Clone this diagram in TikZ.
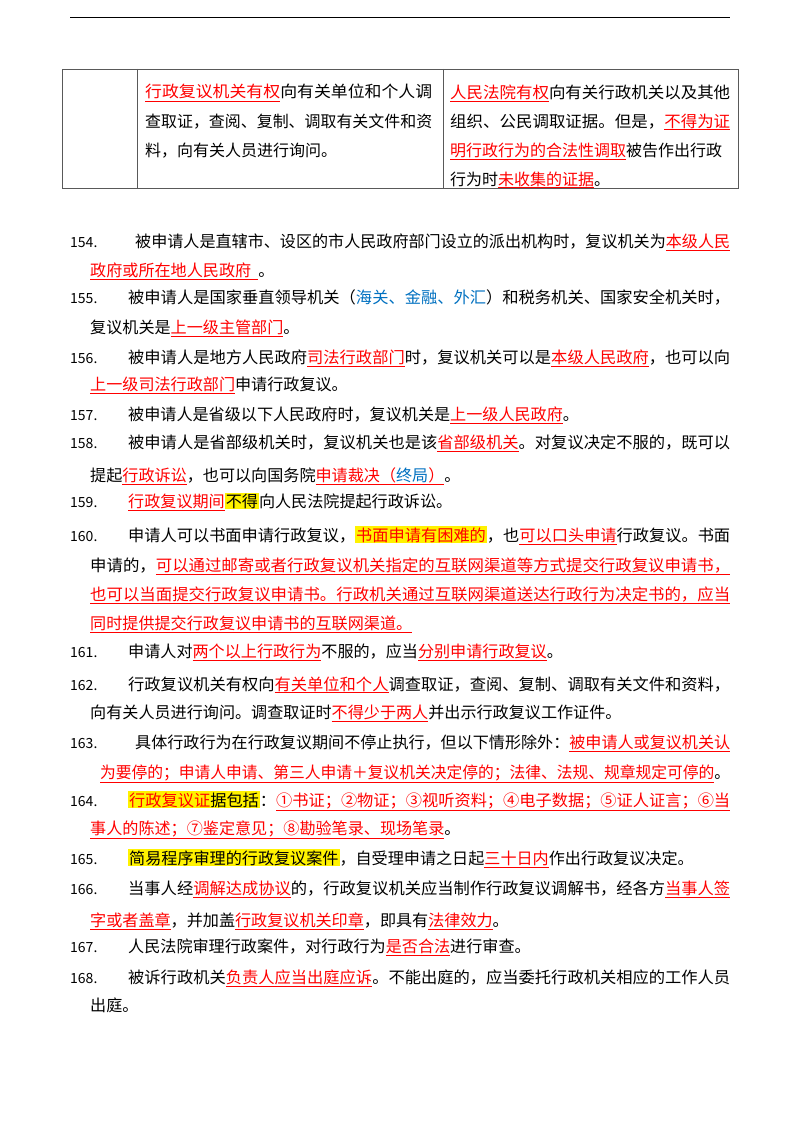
\documentclass[tikz,border=0pt]{standalone}
\usepackage{fontspec}
\usepackage{graphicx}
\setmainfont{Noto Sans CJK SC}
\definecolor{hlred}{RGB}{255,0,0}
\definecolor{hlblue}{RGB}{0,112,192}
\newcommand{\R}[1]{{\color{hlred}\underline{#1}}}
\newcommand{\Rn}[1]{{\color{hlred}#1}}
\newcommand{\Bl}[1]{{\color{hlblue}#1}}
\newcommand{\Yl}[1]{{\setlength{\fboxsep}{1pt}\colorbox{yellow}{#1}}}
\tikzset{
  txt/.style={anchor=base west,inner sep=0pt,font=\fontsize{16.1}{18}\selectfont},
  num/.style={anchor=base west,inner sep=0pt,font=\fontsize{14}{16}\selectfont},
  tbl/.style={anchor=base west,inner sep=0pt,font=\fontsize{16}{18}\selectfont},
}
\begin{document}
\begin{tikzpicture}[x=1pt,y=-1pt]
\useasboundingbox (0,0) rectangle (800,1132);
\draw[line width=0.8pt] (70,17) -- (730,17);
% table
\draw[line width=0.6pt,gray!70!black] (62,69) rectangle (738,188);
\draw[line width=0.6pt,gray!70!black] (137,69) -- (137,188) (443,69) -- (443,188);
\newcommand{\W}[4]{\node[txt] (#4) at (#1,#2) {\resizebox{\dimexpr730pt-#1pt\relax}{\height}{#3}};}
\newcommand{\WT}[5]{\node[tbl] (#5) at (#1,#2) {\resizebox{#4pt}{\height}{#3}};}
\WT{145}{98}{\R{行政复议机关有权}向有关单位和个人调}{287}{t1}
\WT{145}{127}{查取证，查阅、复制、调取有关文件和资}{287}{t2}
\node[tbl] (t3) at (145,156) {料，向有关人员进行询问。};
\WT{450}{98}{\R{人民法院有权}向有关行政机关以及其他}{280}{t4}
\WT{450}{127}{组织、公民调取证据。但是，\R{不得为证}}{280}{t5}
\WT{450}{156}{\R{明行政行为的合法性调取}被告作出行政}{272}{t6}
\node[tbl] (t7) at (450,185) {行为时\R{未收集的证据}。};
% items
\node[num] (n154) at (70,247) {154.};
\W{135}{247}{被申请人是直辖市、设区的市人民政府部门设立的派出机构时，复议机关为\R{本级人民}}{l154}
\node[txt] (l154b) at (90,276) {\R{政府或所在地人民政府\ \ }。};
\node[num] (n155) at (70,303) {155.};
\W{128}{303}{被申请人是国家垂直领导机关（\Bl{海关、金融、外汇}）和税务机关、国家安全机关时，}{l155}
\node[txt] (l155b) at (90,333) {复议机关是\R{上一级主管部门}。};
\node[num] (n156) at (70,363) {156.};
\W{128}{363}{被申请人是地方人民政府\R{司法行政部门}时，复议机关可以是\R{本级人民政府}，也可以向}{l156}
\node[txt] (l156b) at (90,390) {\R{上一级司法行政部门}申请行政复议。};
\node[num] (n157) at (70,420) {157.};
\node[txt] (l157) at (128,420) {被申请人是省级以下人民政府时，复议机关是\R{上一级人民政府}。};
\node[num] (n158) at (70,448) {158.};
\W{128}{448}{被申请人是省部级机关时，复议机关也是该\R{省部级机关}。对复议决定不服的，既可以}{l158}
\node[txt] (l158b) at (90,481) {提起\R{行政诉讼}，也可以向国务院\R{申请裁决（\Bl{终局}）}。};
\node[num] (n159) at (70,507) {159.};
\node[txt] (l159) at (128,507) {\R{行政复议期间}\Yl{不得}向人民法院提起行政诉讼。};
\node[num] (n160) at (70,541) {160.};
\W{128}{541}{申请人可以书面申请行政复议，\Yl{\Rn{书面申请有困难的}}，也\R{可以口头申请}行政复议。书面}{l160}
\W{90}{571}{申请的，\R{可以通过邮寄或者行政复议机关指定的互联网渠道等方式提交行政复议申请书，}}{l160b}
\W{90}{600}{\R{也可以当面提交行政复议申请书。行政机关通过互联网渠道送达行政行为决定书的，应当}}{l160c}
\node[txt] (l160d) at (90,629) {\R{同时提供提交行政复议申请书的互联网渠道。}};
\node[num] (n161) at (70,657) {161.};
\node[txt] (l161) at (128,657) {申请人对\R{两个以上行政行为}不服的，应当\R{分别申请行政复议}。};
\node[num] (n162) at (70,690) {162.};
\W{128}{690}{行政复议机关有权向\R{有关单位和个人}调查取证，查阅、复制、调取有关文件和资料，}{l162}
\node[txt] (l162b) at (90,718) {向有关人员进行询问。调查取证时\R{不得少于两人}并出示行政复议工作证件。};
\node[num] (n163) at (70,748) {163.};
\W{135}{748}{具体行政行为在行政复议期间不停止执行，但以下情形除外：\R{被申请人或复议机关认}}{l163}
\W{100}{778}{\R{为要停的；申请人申请、第三人申请＋复议机关决定停的；法律、法规、规章规定可停的}。}{l163b}
\node[num] (n164) at (70,806) {164.};
\W{128}{806}{\Yl{\Rn{行政复议证}据包括}：\R{①书证；②物证；③视听资料；④电子数据；⑤证人证言；⑥当}}{l164}
\node[txt] (l164b) at (90,834) {\R{事人的陈述；⑦鉴定意见；⑧勘验笔录、现场笔录}。};
\node[num] (n165) at (70,864) {165.};
\node[txt] (l165) at (128,864) {\Yl{简易程序审理的行政复议案件}，自受理申请之日起\R{三十日内}作出行政复议决定。};
\node[num] (n166) at (70,894) {166.};
\W{128}{894}{当事人经\R{调解达成协议}的，行政复议机关应当制作行政复议调解书，经各方\R{当事人签}}{l166}
\node[txt] (l166b) at (90,926) {\R{字或者盖章}，并加盖\R{行政复议机关印章}，即具有\R{法律效力}。};
\node[num] (n167) at (70,952) {167.};
\node[txt] (l167) at (128,952) {人民法院审理行政案件，对行政行为\R{是否合法}进行审查。};
\node[num] (n168) at (70,983) {168.};
\W{128}{983}{被诉行政机关\R{负责人应当出庭应诉}。不能出庭的，应当委托行政机关相应的工作人员}{l168}
\node[txt] (l168b) at (90,1011) {出庭。};
\end{tikzpicture}
\end{document}
